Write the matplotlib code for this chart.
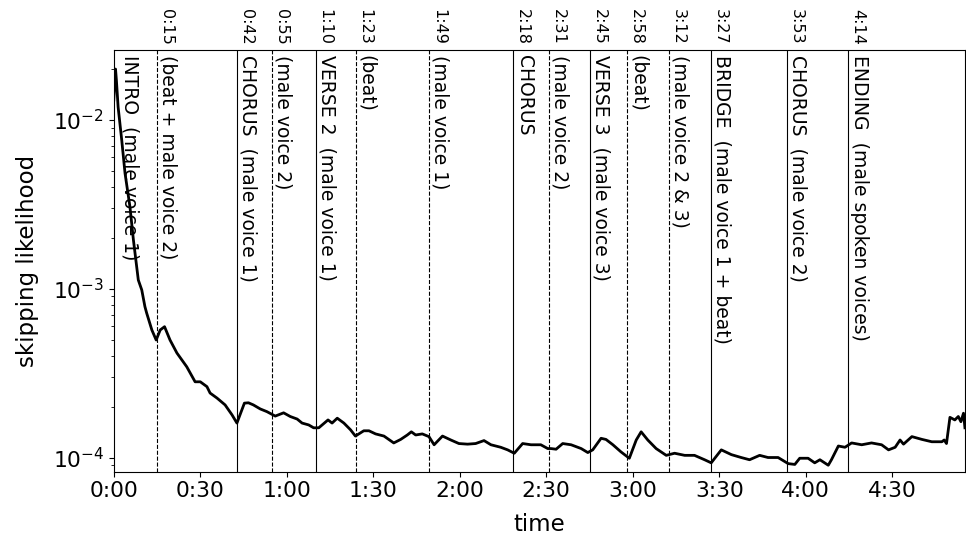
import matplotlib
matplotlib.use("Agg")
import matplotlib.pyplot as plt
import matplotlib.transforms as mtransforms
import numpy as np

# skipping likelihood over the song (time in seconds)
times = [0.0, 0.6, 0.9, 1.5, 2.75, 3.9, 5.6, 6.8, 8.5, 9.7, 10.8, 11.4, 13.2, 14.7,
         16.1, 17.6, 19.5, 21.9, 25.3, 28.2, 30.0, 32.3, 33.4, 35.8, 38.6, 41.0,
         42.7, 45.3, 46.7, 48.4, 50.8, 53.1, 56.0, 58.9, 61.2, 63.6, 65.3, 67.6,
         69.3, 71.1, 74.3, 75.7, 77.5, 79.8, 82.1, 83.8, 86.7, 88.5, 90.8, 93.7,
         97.1, 99.5, 101.8, 103.2, 104.7, 107.0, 109.3, 111.1, 114.0, 116.9,
         119.7, 122.7, 125.5, 128.4, 130.8, 134.2, 136.6, 138.9, 141.8, 144.7,
         148.1, 150.5, 151.6, 153.4, 155.7, 158.6, 162.1, 164.4, 166.1, 169.0,
         170.7, 173.1, 175.9, 178.8, 181.2, 182.9, 185.2, 188.1, 191.6, 194.5,
         198.0, 201.4, 204.9, 207.2, 210.7, 214.2, 217.6, 220.5, 224.0, 226.9,
         230.4, 233.9, 236.2, 237.9, 240.8, 243.1, 244.9, 247.8, 248.9, 251.3,
         253.6, 255.9, 259.4, 262.8, 266.3, 268.7, 271.0, 272.7, 273.9, 276.8,
         280.3, 283.7, 287.2, 288.0, 288.8, 290.0, 291.7, 292.9, 293.8, 294.7,
         295.2]
likelihood = [1.315e-2, 2.005e-2, 1.726e-2, 1.194e-2, 7.61e-3, 4.83e-3, 3.06e-3,
              1.95e-3, 1.127e-3, 9.84e-4, 7.83e-4, 7.18e-4, 5.70e-4, 4.97e-4,
              5.70e-4, 5.96e-4, 4.97e-4, 4.16e-4, 3.45e-4, 2.81e-4, 2.81e-4,
              2.63e-4, 2.41e-4, 2.25e-4, 2.05e-4, 1.79e-4, 1.60e-4, 2.10e-4,
              2.11e-4, 2.05e-4, 1.94e-4, 1.87e-4, 1.76e-4, 1.84e-4, 1.75e-4,
              1.69e-4, 1.60e-4, 1.56e-4, 1.50e-4, 1.50e-4, 1.67e-4, 1.60e-4,
              1.71e-4, 1.60e-4, 1.46e-4, 1.34e-4, 1.44e-4, 1.44e-4, 1.38e-4,
              1.34e-4, 1.22e-4, 1.28e-4, 1.36e-4, 1.42e-4, 1.36e-4, 1.38e-4,
              1.33e-4, 1.19e-4, 1.34e-4, 1.27e-4, 1.21e-4, 1.20e-4, 1.21e-4,
              1.26e-4, 1.19e-4, 1.15e-4, 1.11e-4, 1.06e-4, 1.21e-4, 1.19e-4,
              1.19e-4, 1.13e-4, 1.13e-4, 1.12e-4, 1.21e-4, 1.19e-4, 1.13e-4,
              1.07e-4, 1.11e-4, 1.30e-4, 1.28e-4, 1.19e-4, 1.08e-4, 9.9e-5,
              1.27e-4, 1.42e-4, 1.27e-4, 1.13e-4, 1.03e-4, 1.06e-4, 1.03e-4,
              1.03e-4, 9.7e-5, 9.3e-5, 1.11e-4, 1.04e-4, 1.00e-4, 9.7e-5,
              1.03e-4, 1.00e-4, 1.00e-4, 9.2e-5, 9.1e-5, 9.9e-5, 9.9e-5, 9.3e-5,
              9.7e-5, 9.0e-5, 9.7e-5, 1.17e-4, 1.15e-4, 1.22e-4, 1.19e-4,
              1.22e-4, 1.19e-4, 1.11e-4, 1.15e-4, 1.27e-4, 1.20e-4, 1.33e-4,
              1.28e-4, 1.24e-4, 1.24e-4, 1.27e-4, 1.21e-4, 1.73e-4, 1.67e-4,
              1.75e-4, 1.63e-4, 1.83e-4, 1.50e-4]

# song structure: main sections (solid) and sub-parts (dashed)
section_pos = [0.0, 42.6, 70.0, 138.5, 165.0, 207.0, 233.4, 254.7]
section_time = ["", "0:42", "1:10", "2:18", "2:45", "3:27", "3:53", "4:14"]
section_text = ["INTRO  (male voice 1)", "CHORUS  (male voice 1)",
                "VERSE 2  (male voice 1)", "CHORUS", "VERSE 3  (male voice 3)",
                "BRIDGE  (male voice 1 + beat)", "CHORUS  (male voice 2)",
                "ENDING  (male spoken voices)"]
part_pos = [15.0, 55.0, 83.9, 109.4, 151.0, 178.0, 192.6]
part_time = ["0:15", "0:55", "1:23", "1:49", "2:31", "2:58", "3:12"]
part_text = ["(beat + male voice 2)", "(male voice 2)", "(beat)", "(male voice 1)",
             "(male voice 2)", "(beat)", "(male voice 2 & 3)"]

xticks = [0, 30, 60, 90, 120, 150, 180, 210, 240, 270]
xtick_labels = ["0:00", "0:30", "1:00", "1:30", "2:00", "2:30", "3:00", "3:30", "4:00", "4:30"]

fig = plt.figure(figsize=(9.66, 5.37), dpi=100)
ax = fig.add_axes([0.1178, 0.1216, 0.8808, 0.7853])

ax.plot(times, likelihood, color="k", linewidth=2)
ax.set_yscale("log")
ax.set_xlim(0, 295.1)
ax.set_ylim(8.24e-5, 2.6e-2)

trans = ax.get_xaxis_transform()

def put_labels(positions, stamps, texts, style):
    for pos, stamp, txt in zip(positions, stamps, texts):
        if pos > 0:
            ax.axvline(pos, color="k", linewidth=0.8, linestyle=style)
        dx = 7 if pos == 0 else 1.5
        off_in = mtransforms.offset_copy(trans, fig=fig, x=dx, y=-5, units="dots")
        ax.text(pos, 1.0, txt, transform=off_in, rotation=-90, ha="left", va="top",
                fontsize=13.5)
        if stamp:
            off_top = mtransforms.offset_copy(trans, fig=fig, x=2, y=5, units="dots")
            ax.text(pos, 1.0, stamp, transform=off_top, rotation=-90, ha="left",
                    va="bottom", fontsize=11.5)

put_labels(section_pos, section_time, section_text, "-")
put_labels(part_pos, part_time, part_text, "--")

ax.set_xticks(xticks)
ax.set_xticklabels(xtick_labels)
ax.tick_params(axis="both", which="major", labelsize=15.7)
ax.set_xlabel("time", fontsize=16.5, labelpad=8)
ax.set_ylabel("skipping likelihood", fontsize=16.5, labelpad=10)

fig.savefig("out.png", dpi=100)
